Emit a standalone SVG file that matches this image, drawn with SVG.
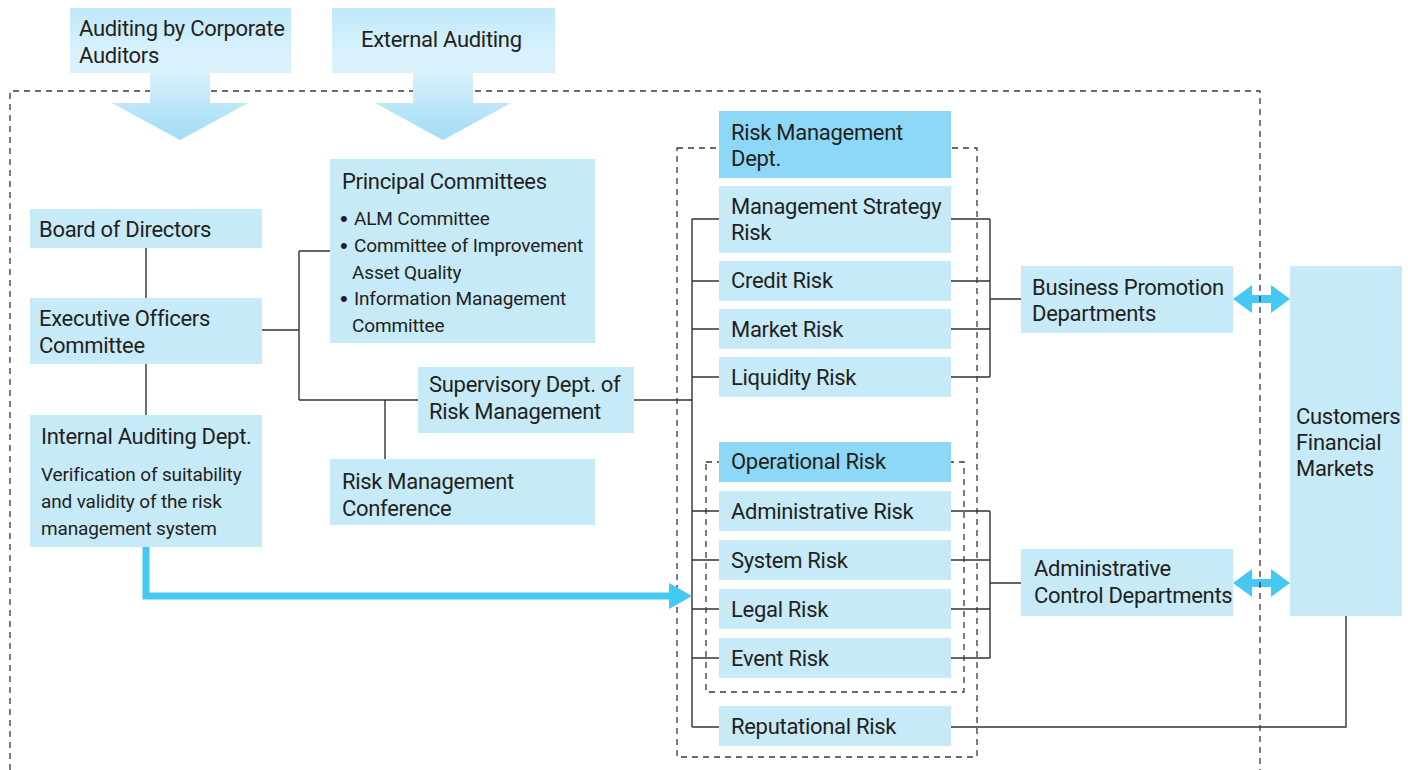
<svg xmlns="http://www.w3.org/2000/svg" width="1408" height="770" viewBox="0 0 1408 770">
<defs>
<linearGradient id="topGrad" gradientUnits="userSpaceOnUse" x1="0" y1="8" x2="0" y2="140">
<stop offset="0" stop-color="#c0e8f9"/>
<stop offset="0.4" stop-color="#ddf3fd"/>
<stop offset="0.55" stop-color="#d2eefb"/>
<stop offset="1" stop-color="#a0dcf5"/>
</linearGradient>
<style>
.box{fill:#c7eaf9}
.dark{fill:#8dd7f7}
.t{font-family:Roboto,"Liberation Sans",sans-serif;font-size:22px;letter-spacing:-0.3px;fill:#231f20}
.s{font-family:Roboto,"Liberation Sans",sans-serif;font-size:19px;letter-spacing:-0.15px;fill:#231f20}
.b{font-family:"Liberation Sans",sans-serif;font-size:22px;fill:#231f20}
.ln{fill:none;stroke:#333;stroke-width:1.4}
.dash{fill:none;stroke:#3a3a3a;stroke-width:1.3;stroke-dasharray:6 5}
.blue{fill:#45c8f2}
</style>
</defs>
<rect width="1408" height="770" fill="#fff"/>

<g id="groups">
<rect class="dash" x="677" y="148" width="300" height="609"/>
<rect class="dash" x="706" y="462" width="258" height="230"/>
</g>

<g id="connectors">
<path class="ln" d="M146,248V298M146,364V415M262,330H299M299,251V400M299,251H330M299,400H418M385,400V459M634,400H692"/>
<path class="ln" d="M692,219V727M692,219H719M692,281H719M692,329H719M692,377H719M692,511H719M692,560H719M692,609H719M692,658H719M692,727H719"/>
<path class="ln" d="M951,219H990M951,281H990M951,329H990M951,377H990M990,219V377M990,299H1021"/>
<path class="ln" d="M951,511H990M951,560H990M951,609H990M951,658H990M990,511V658M990,583H1021"/>
<path class="ln" d="M951,727H1346V616"/>
<path d="M146,547V596H672" fill="none" stroke="#45c8f2" stroke-width="7"/>
<polygon class="blue" points="669,583 692,596 669,609"/>
<polygon class="blue" points="1233,299 1252,285 1252,295 1271,295 1271,285 1290,299 1271,313 1271,303 1252,303 1252,313"/>
<polygon class="blue" points="1233,583 1252,569 1252,579 1271,579 1271,569 1290,583 1271,597 1271,587 1252,587 1252,597"/>
</g>

<path id="boundary" class="dash" d="M10,770V91H1260V770"/>

<g id="auditing-corporate">
<rect x="70" y="8" width="221" height="65" fill="url(#topGrad)"/>
<polygon points="150,72 210,72 210,103 248,103 180,140 112,103 150,103" fill="url(#topGrad)"/>
<text class="t" x="79" y="36">Auditing by Corporate</text>
<text class="t" x="79" y="63">Auditors</text>
</g>
<g id="external-auditing">
<rect x="332" y="8" width="223" height="65" fill="url(#topGrad)"/>
<polygon points="413,72 473,72 473,103 511,103 443,140 375,103 413,103" fill="url(#topGrad)"/>
<text class="t" x="361" y="47">External Auditing</text>
</g>

<g id="board">
<rect class="box" x="30" y="209" width="232" height="39"/>
<text class="t" x="39" y="237">Board of Directors</text>
</g>
<g id="exec">
<rect class="box" x="30" y="298" width="232" height="66"/>
<text class="t" x="39" y="326">Executive Officers</text>
<text class="t" x="39" y="353">Committee</text>
</g>
<g id="internal-audit">
<rect class="box" x="30" y="415" width="232" height="132"/>
<text class="t" x="41" y="444">Internal Auditing Dept.</text>
<text class="s" x="41" y="481">Verification of suitability</text>
<text class="s" x="41" y="508">and validity of the risk</text>
<text class="s" x="41" y="535">management system</text>
</g>
<g id="principal">
<rect class="box" x="330" y="159" width="265" height="184"/>
<text class="t" x="342" y="189">Principal Committees</text>
<text class="b" x="340" y="226">•</text><text class="s" x="354" y="225">ALM Committee</text>
<text class="b" x="340" y="253">•</text><text class="s" x="354" y="252">Committee of Improvement</text>
<text class="s" x="352" y="279">Asset Quality</text>
<text class="b" x="340" y="306">•</text><text class="s" x="354" y="305">Information Management</text>
<text class="s" x="352" y="332">Committee</text>
</g>
<g id="supervisory">
<rect class="box" x="418" y="367" width="216" height="66"/>
<text class="t" x="429" y="392">Supervisory Dept. of</text>
<text class="t" x="429" y="419">Risk Management</text>
</g>
<g id="conference">
<rect class="box" x="330" y="459" width="265" height="66"/>
<text class="t" x="342" y="489">Risk Management</text>
<text class="t" x="342" y="516">Conference</text>
</g>

<g id="risk-dept">
<rect class="dark" x="719" y="111" width="232" height="67"/>
<text class="t" x="731" y="140">Risk Management</text>
<text class="t" x="731" y="166">Dept.</text>
</g>
<g id="strategy">
<rect class="box" x="719" y="186" width="232" height="67"/>
<text class="t" x="731" y="214">Management Strategy</text>
<text class="t" x="731" y="240">Risk</text>
</g>
<g id="credit">
<rect class="box" x="719" y="261" width="232" height="40"/>
<text class="t" x="731" y="288">Credit Risk</text>
</g>
<g id="market">
<rect class="box" x="719" y="309" width="232" height="40"/>
<text class="t" x="731" y="337">Market Risk</text>
</g>
<g id="liquidity">
<rect class="box" x="719" y="357" width="232" height="40"/>
<text class="t" x="731" y="385">Liquidity Risk</text>
</g>
<g id="operational">
<rect class="dark" x="719" y="442" width="232" height="40"/>
<text class="t" x="731" y="469">Operational Risk</text>
</g>
<g id="administrative">
<rect class="box" x="719" y="491" width="232" height="40"/>
<text class="t" x="731" y="519">Administrative Risk</text>
</g>
<g id="system">
<rect class="box" x="719" y="540" width="232" height="40"/>
<text class="t" x="731" y="568">System Risk</text>
</g>
<g id="legal">
<rect class="box" x="719" y="589" width="232" height="40"/>
<text class="t" x="731" y="617">Legal Risk</text>
</g>
<g id="event">
<rect class="box" x="719" y="638" width="232" height="40"/>
<text class="t" x="731" y="666">Event Risk</text>
</g>
<g id="reputational">
<rect class="box" x="719" y="706" width="232" height="40"/>
<text class="t" x="731" y="734">Reputational Risk</text>
</g>

<g id="business">
<rect class="box" x="1021" y="266" width="212" height="67"/>
<text class="t" x="1032" y="295">Business Promotion</text>
<text class="t" x="1032" y="321">Departments</text>
</g>
<g id="admin-control">
<rect class="box" x="1021" y="549" width="212" height="67"/>
<text class="t" x="1034" y="576">Administrative</text>
<text class="t" x="1034" y="603">Control Departments</text>
</g>
<g id="customers">
<rect class="box" x="1290" y="266" width="112" height="350"/>
<text class="t" x="1296" y="424">Customers</text>
<text class="t" x="1296" y="450">Financial</text>
<text class="t" x="1296" y="476">Markets</text>
</g>
</svg>
